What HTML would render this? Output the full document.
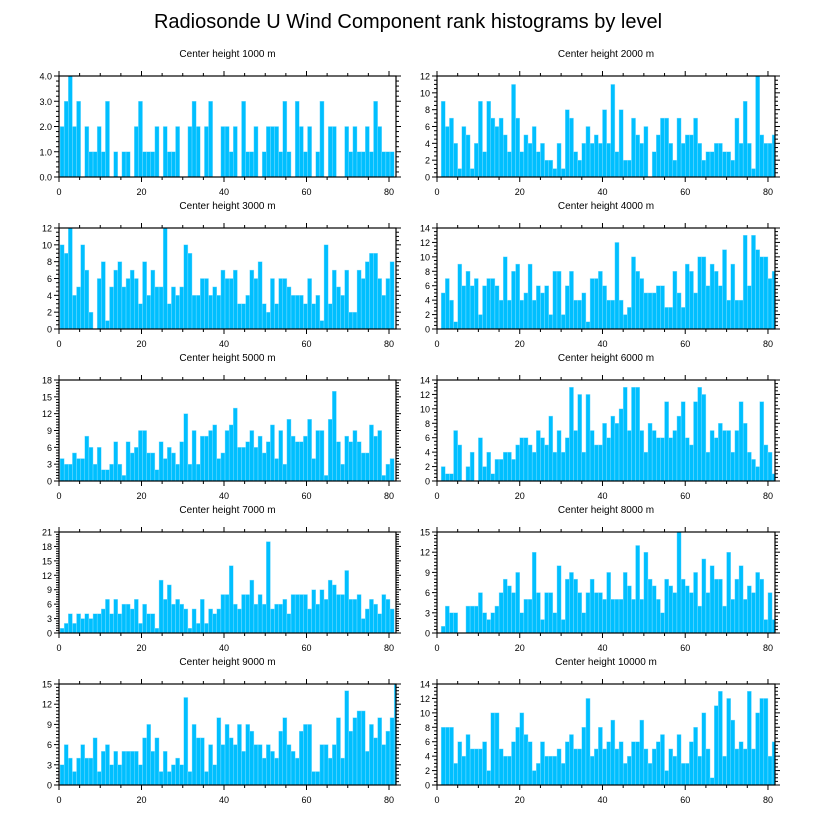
<!DOCTYPE html>
<html><head><meta charset="utf-8"><style>
html,body{margin:0;padding:0;background:#fff;}
svg{display:block;font-family:"Liberation Sans",sans-serif;}
</style></head><body>
<svg id="chart" width="818" height="824" viewBox="0 0 818 824">
<text x="408" y="28" font-size="20" text-anchor="middle" fill="#000">Radiosonde U Wind Component rank histograms by level</text>
</svg>
<script>
const panelTitles = ["Center height 1000 m","Center height 2000 m","Center height 3000 m","Center height 4000 m","Center height 5000 m","Center height 6000 m","Center height 7000 m","Center height 8000 m","Center height 9000 m","Center height 10000 m"];
const yMax = [4,12,12,14,18,14,21,15,15,14];
const yStep = [1,2,2,2,3,2,3,3,3,2];
const xTicks = [0,20,40,60,80];
const h1000 = [2,3,4,2,3,0,2,1,1,2,1,3,0,1,0,1,1,0,2,3,1,1,1,2,0,2,1,1,2,0,0,2,3,2,0,2,3,0,0,2,2,1,2,0,3,1,1,2,0,1,2,2,2,1,3,1,0,3,2,1,2,0,1,3,0,2,2,0,0,2,1,2,1,1,2,1,3,2,1,1,1];
const h2000 = [9,6,7,4,1,6,5,1,4,9,3,9,7,6,7,5,3,11,7,3,5,4,6,3,4,2,2,1,4,1,8,7,3,2,4,6,4,5,4,8,4,11,3,8,2,2,7,5,4,6,0,3,5,7,7,4,2,7,4,5,5,7,4,2,3,3,4,4,3,3,2,7,4,9,4,1,12,5,4,4,5];
const h3000 = [10,9,12,4,5,10,7,2,0,6,8,1,5,7,8,5,6,7,6,3,8,4,7,5,5,12,3,5,4,5,10,9,4,4,6,6,4,5,4,7,6,6,7,3,3,4,7,6,8,3,2,6,3,6,6,5,4,4,4,3,6,3,4,1,10,3,7,5,4,7,2,2,7,6,8,9,9,6,4,6,8];
const h4000 = [5,7,4,1,9,6,8,6,7,2,6,7,7,6,4,10,4,8,9,4,5,9,4,6,5,6,2,8,8,2,6,8,4,4,5,1,7,7,8,6,4,4,12,4,2,3,10,8,7,5,5,5,6,6,3,3,8,5,3,9,8,5,10,10,6,9,8,6,11,4,9,4,4,13,6,13,11,10,10,7,8];
const h5000 = [4,3,3,5,4,4,8,6,3,6,2,2,3,7,3,1,7,5,6,9,9,5,5,2,7,4,6,5,3,7,12,3,9,3,8,8,9,10,4,5,9,10,13,6,6,7,9,6,8,5,7,10,4,9,3,11,8,7,7,8,11,4,9,9,1,11,16,7,3,8,7,9,7,5,5,10,8,9,1,3,4];
const h6000 = [2,1,1,7,5,0,2,4,0,6,2,4,1,3,3,4,4,3,5,6,6,5,4,7,6,5,9,4,7,4,6,13,7,12,4,12,7,5,5,8,6,9,8,10,13,7,13,13,7,4,8,7,6,6,11,6,7,9,11,6,5,11,13,12,4,7,6,8,7,7,4,7,11,8,4,3,2,11,5,4,1];
const h7000 = [1,2,4,2,4,3,4,3,4,4,5,7,4,7,4,6,6,5,7,2,6,4,4,1,11,7,10,6,7,6,5,1,5,2,7,2,5,4,5,8,8,14,6,5,8,8,11,6,8,6,19,5,6,6,7,4,8,8,8,8,5,9,6,9,7,11,10,8,8,13,7,7,8,3,5,7,6,4,8,7,5];
const h8000 = [1,4,3,3,0,0,4,4,4,6,3,2,3,4,6,8,7,6,9,3,5,5,12,6,2,6,6,3,10,2,8,9,8,6,3,6,8,6,6,5,9,5,5,5,9,7,5,13,5,12,8,7,5,3,8,7,6,15,8,7,6,9,4,11,6,10,8,8,4,12,5,8,10,5,7,6,9,8,2,6,2];
const h9000 = [3,6,4,2,4,6,4,4,7,2,5,6,3,5,3,5,5,5,5,3,7,9,5,7,2,5,2,3,4,3,13,2,9,7,7,2,6,3,10,6,9,7,6,9,5,9,8,6,6,4,6,5,4,8,10,6,5,4,8,9,9,2,2,6,6,4,6,10,4,14,8,10,11,11,5,9,7,10,6,8,10,15];
const h10000 = [8,8,8,3,6,4,7,5,5,5,6,2,10,10,5,4,4,6,8,10,7,6,2,3,6,4,4,4,5,3,6,7,5,5,8,12,4,5,8,5,6,9,5,6,3,4,6,6,9,5,3,5,6,7,2,5,4,7,3,3,6,8,4,10,5,1,11,13,4,12,9,5,6,5,13,5,10,12,12,4,6];
const series = [h1000,h2000,h3000,h4000,h5000,h6000,h7000,h8000,h9000,h10000];

const NS = "http://www.w3.org/2000/svg";
const svg = document.getElementById('chart');
function mk(tag, attrs, parent){const e=document.createElementNS(NS,tag);for(const k in attrs)e.setAttribute(k,attrs[k]);(parent||svg).appendChild(e);return e;}

const XMAX = 81.7;
for (let p=0;p<10;p++){
  const col=p%2,row=Math.floor(p/2);
  const left = col===0?59:437, right = col===0?396:775;
  const top = 76+row*152, bottom = top+101;
  const barStart = col===0?0.25:1;
  const sx = v => left + v*(right-left)/XMAX;
  const sy = v => bottom - v*(bottom-top)/yMax[p];
  const g = mk('g',{});
  
  
  const t = mk('text',{x:(left+right)/2,y:top-19,'font-size':10,'text-anchor':'middle',fill:'#000'},g);
  t.textContent = panelTitles[p];
  
  
  const clipId='clip'+p;
  const cp=mk('clipPath',{id:clipId},g);
  mk('rect',{x:left,y:top,width:right-left,height:bottom-top},cp);
  const bg = mk('g',{'clip-path':'url(#'+clipId+')'},g);
  series[p].forEach((v,i)=>{
    if(v<=0) return;
    const x0=sx(i+barStart), x1=sx(i+barStart+1);
    const r=mk('rect',{x:x0,y:sy(v),width:x1-x0,height:bottom-sy(v),fill:'#00bfff',stroke:'#8fe0ff','stroke-width':0.4},bg);
    
    
  });
  const fr=mk('rect',{x:left,y:top,width:right-left,height:bottom-top,fill:'none',stroke:'#000','stroke-width':1.2},g);
  
  
  for(let v=0; v<=XMAX; v+=5){
    const x=sx(v), major=(v%20===0), L=major?5:3;
    mk('line',{x1:x,x2:x,y1:bottom,y2:bottom+L,stroke:'#000','stroke-width':1},g);
    mk('line',{x1:x,x2:x,y1:top,y2:top-L,stroke:'#000','stroke-width':1},g);
  }
  xTicks.forEach(v=>{
    const tx=mk('text',{x:sx(v),y:bottom+18,'font-size':9,'text-anchor':'middle',fill:'#000'},g);
    tx.textContent=v;
    
    
  });
  const minor = yStep[p]===1?0.2:0.5;
  const nMin = Math.round(yMax[p]/minor);
  for(let k=0;k<=nMin;k++){
    const v=k*minor, y=sy(v);
    const major = Math.abs(v/yStep[p]-Math.round(v/yStep[p]))<1e-6;
    const L=major?5:3;
    mk('line',{x1:left,x2:left-L,y1:y,y2:y,stroke:'#000','stroke-width':1},g);
    mk('line',{x1:right,x2:right+L,y1:y,y2:y,stroke:'#000','stroke-width':1},g);
  }
  for(let v=0; v<=yMax[p]; v+=yStep[p]){
    const ty=mk('text',{x:left-7,y:sy(v)+3.5,'font-size':9,'text-anchor':'end',fill:'#000'},g);
    ty.textContent = yStep[p]===1 ? v.toFixed(1) : v;
    
    
  }
}
</script>
</body></html>
